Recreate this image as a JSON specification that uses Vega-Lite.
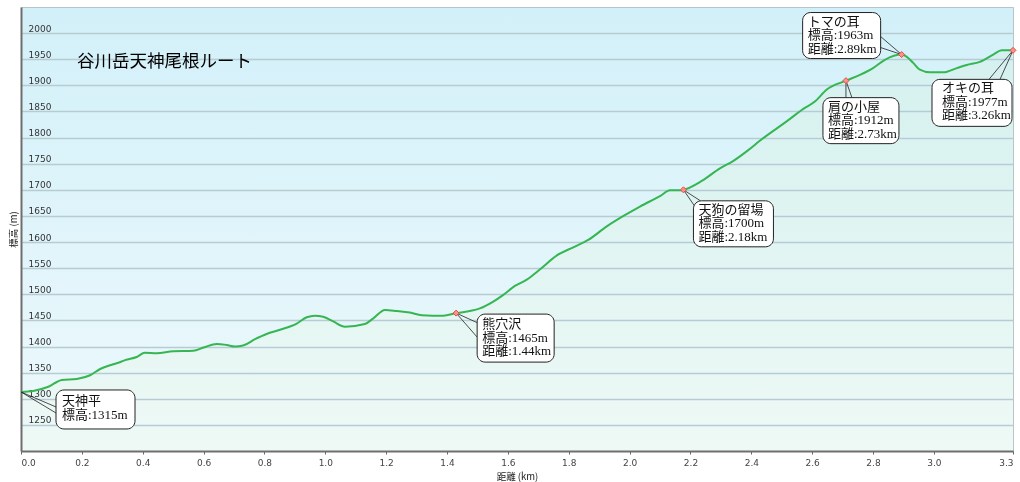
{
  "$schema": "https://vega.github.io/schema/vega-lite/v6.json",
  "autosize": {"type": "none"},
  "padding": {"left": 21, "top": 7, "right": 7, "bottom": 31},
  "width": 992,
  "height": 444,
  "background": "#ffffff",
  "view": {
    "fill": {"gradient": "linear", "x1": 0, "y1": 0, "x2": 0, "y2": 1,
      "stops": [{"offset": 0, "color": "#d2f0f9"}, {"offset": 1, "color": "#eef9fc"}]},
    "stroke": "#b8c4c8"
  },
  "title": {
    "text": "谷川岳天神尾根ルート",
    "anchor": "start", "frame": "group", "orient": "top",
    "offset": 0, "dx": 56, "dy": 72, "baseline": "middle",
    "font": "Noto Sans CJK JP", "fontSize": 17.5, "fontWeight": "normal", "color": "#000000"
  },
  "datasets": {
    "profile": [
      {"km": 0.000, "elev": 1313}, {"km": 0.040, "elev": 1315}, {"km": 0.090, "elev": 1323},
      {"km": 0.134, "elev": 1336}, {"km": 0.183, "elev": 1338}, {"km": 0.227, "elev": 1345},
      {"km": 0.260, "elev": 1357}, {"km": 0.303, "elev": 1366}, {"km": 0.325, "elev": 1370},
      {"km": 0.342, "elev": 1374}, {"km": 0.380, "elev": 1380}, {"km": 0.407, "elev": 1388},
      {"km": 0.446, "elev": 1387}, {"km": 0.500, "elev": 1391}, {"km": 0.566, "elev": 1392},
      {"km": 0.600, "elev": 1398}, {"km": 0.643, "elev": 1405}, {"km": 0.676, "elev": 1403},
      {"km": 0.703, "elev": 1400}, {"km": 0.730, "elev": 1402}, {"km": 0.769, "elev": 1414},
      {"km": 0.807, "elev": 1424}, {"km": 0.851, "elev": 1432}, {"km": 0.906, "elev": 1444},
      {"km": 0.939, "elev": 1456}, {"km": 0.966, "elev": 1459}, {"km": 0.993, "elev": 1457},
      {"km": 1.026, "elev": 1448}, {"km": 1.065, "elev": 1438}, {"km": 1.130, "elev": 1443},
      {"km": 1.158, "elev": 1454}, {"km": 1.196, "elev": 1470}, {"km": 1.235, "elev": 1468},
      {"km": 1.278, "elev": 1465}, {"km": 1.317, "elev": 1460}, {"km": 1.388, "elev": 1459},
      {"km": 1.430, "elev": 1464}, {"km": 1.465, "elev": 1467}, {"km": 1.508, "elev": 1473},
      {"km": 1.552, "elev": 1486}, {"km": 1.585, "elev": 1499}, {"km": 1.623, "elev": 1516},
      {"km": 1.662, "elev": 1528}, {"km": 1.706, "elev": 1548}, {"km": 1.760, "elev": 1574},
      {"km": 1.815, "elev": 1590}, {"km": 1.864, "elev": 1604}, {"km": 1.925, "elev": 1630},
      {"km": 1.980, "elev": 1650}, {"km": 2.034, "elev": 1668}, {"km": 2.100, "elev": 1688},
      {"km": 2.133, "elev": 1699}, {"km": 2.166, "elev": 1699}, {"km": 2.177, "elev": 1700},
      {"km": 2.237, "elev": 1717}, {"km": 2.297, "elev": 1741}, {"km": 2.340, "elev": 1755},
      {"km": 2.390, "elev": 1776}, {"km": 2.428, "elev": 1794}, {"km": 2.516, "elev": 1831},
      {"km": 2.571, "elev": 1855}, {"km": 2.609, "elev": 1869}, {"km": 2.648, "elev": 1892},
      {"km": 2.711, "elev": 1909}, {"km": 2.757, "elev": 1920}, {"km": 2.800, "elev": 1933},
      {"km": 2.839, "elev": 1949}, {"km": 2.894, "elev": 1959}, {"km": 2.910, "elev": 1955},
      {"km": 2.932, "elev": 1943}, {"km": 2.954, "elev": 1930}, {"km": 2.987, "elev": 1925},
      {"km": 3.031, "elev": 1925}, {"km": 3.075, "elev": 1933}, {"km": 3.108, "elev": 1939},
      {"km": 3.151, "elev": 1945}, {"km": 3.195, "elev": 1959}, {"km": 3.223, "elev": 1967},
      {"km": 3.260, "elev": 1967}
    ],
    "spots": [
      {"name": "天神平", "km": 0.000, "elev": 1313, "label": "天神平\n標高:1315m"},
      {"name": "熊穴沢", "km": 1.430, "elev": 1464, "label": "熊穴沢\n標高:1465m\n距離:1.44km"},
      {"name": "天狗の留場", "km": 2.177, "elev": 1700, "label": "天狗の留場\n標高:1700m\n距離:2.18km"},
      {"name": "肩の小屋", "km": 2.711, "elev": 1909, "label": "肩の小屋\n標高:1912m\n距離:2.73km"},
      {"name": "トマの耳", "km": 2.894, "elev": 1959, "label": "トマの耳\n標高:1963m\n距離:2.89km"},
      {"name": "オキの耳", "km": 3.260, "elev": 1967, "label": "オキの耳\n標高:1977m\n距離:3.26km"}
    ]
  },
  "encoding": {
    "x": {
      "field": "km", "type": "quantitative",
      "scale": {"domain": [0, 3.26], "nice": false, "zero": false},
      "axis": {
        "title": "距離 (km)",
        "values": [0, 0.2, 0.4, 0.6, 0.8, 1.0, 1.2, 1.4, 1.6, 1.8, 2.0, 2.2, 2.4, 2.6, 2.8, 3.0, 3.26],
        "labelExpr": "format(datum.value, '.1f')",
        "labelFlush": true, "labelOverlap": false,
        "grid": false, "tickSize": 3, "tickColor": "#666666", "labelPadding": 4,
        "domainColor": "#6e6e6e", "domainWidth": 2,
        "labelFont": "DejaVu Sans", "labelFontSize": 9, "labelColor": "#444444",
        "titleFont": "Noto Sans CJK JP", "titleFontSize": 9.5, "titleFontWeight": "normal", "titleColor": "#222222",
        "titleX": 496, "titleY": 25, "titleAlign": "center", "titleBaseline": "middle"
      }
    },
    "y": {
      "field": "elev", "type": "quantitative",
      "scale": {"domain": [1200, 2050], "nice": false, "zero": false},
      "axis": {
        "title": "標高 (m)",
        "values": [1250, 1300, 1350, 1400, 1450, 1500, 1550, 1600, 1650, 1700, 1750, 1800, 1850, 1900, 1950, 2000],
        "format": "d",
        "grid": true, "gridColor": "#b6ccd0", "gridWidth": 1.5,
        "ticks": false, "tickSize": 0, "labelOverlap": false,
        "labelAlign": "left", "labelBaseline": "alphabetic", "labelPadding": -7, "labelOffset": -2,
        "labelFont": "DejaVu Sans", "labelFontSize": 9, "labelColor": "#333333",
        "domainColor": "#6e6e6e", "domainWidth": 2,
        "titleFont": "Noto Sans CJK JP", "titleFontSize": 9.5, "titleFontWeight": "normal", "titleColor": "#222222",
        "titleAngle": -90, "titleX": -8, "titleY": 222, "titleAlign": "center", "titleBaseline": "middle"
      }
    }
  },
  "layer": [
    {
      "data": {"name": "profile"},
      "mark": {"type": "area", "interpolate": "monotone", "blend": "darken",
        "fill": {"gradient": "linear", "x1": 0, "y1": 0, "x2": 0, "y2": 1,
          "stops": [{"offset": 0, "color": "#d6f4ef"}, {"offset": 1, "color": "#effcf5"}]}},
      "encoding": {"y2": {"datum": 1200}}
    },
    {
      "data": {"name": "profile"},
      "mark": {"type": "line", "interpolate": "monotone", "color": "#35b653", "strokeWidth": 2}
    },
    {
      "data": {"name": "spots"},
      "transform": [{"filter": "datum.name === '天神平'"}],
      "layer": [
        {"mark": {"type": "rule", "color": "#222222", "strokeWidth": 0.8, "x2Offset": 35, "y2Offset": 15},
         "encoding": {"x2": {"field": "km"}, "y2": {"field": "elev"}}},
        {"mark": {"type": "rule", "color": "#222222", "strokeWidth": 0.8, "x2Offset": 35, "y2Offset": 21},
         "encoding": {"x2": {"field": "km"}, "y2": {"field": "elev"}}},
        {"mark": {"type": "rect", "fill": "#ffffff", "stroke": "#222222", "strokeWidth": 1, "cornerRadius": 8,
          "xOffset": 35, "x2Offset": 114, "yOffset": -2, "y2Offset": 37},
         "encoding": {"x2": {"field": "km"}, "y2": {"field": "elev"}}},
        {"mark": {"type": "text", "align": "left", "baseline": "top", "lineBreak": "\n", "lineHeight": 14,
          "font": "Liberation Serif, Noto Sans CJK JP", "fontSize": 13, "color": "#111111", "dx": 41, "dy": 3},
         "encoding": {"text": {"field": "label"}}}
      ]
    },
    {
      "data": {"name": "spots"},
      "transform": [{"filter": "datum.name === '熊穴沢'"}],
      "layer": [
        {"mark": {"type": "rule", "color": "#222222", "strokeWidth": 0.8, "x2Offset": 22, "y2Offset": 10},
         "encoding": {"x2": {"field": "km"}, "y2": {"field": "elev"}}},
        {"mark": {"type": "rule", "color": "#222222", "strokeWidth": 0.8, "x2Offset": 21, "y2Offset": 24},
         "encoding": {"x2": {"field": "km"}, "y2": {"field": "elev"}}},
        {"mark": {"type": "rect", "fill": "#ffffff", "stroke": "#222222", "strokeWidth": 1, "cornerRadius": 8,
          "xOffset": 21, "x2Offset": 98, "yOffset": 1, "y2Offset": 49},
         "encoding": {"x2": {"field": "km"}, "y2": {"field": "elev"}}},
        {"mark": {"type": "text", "align": "left", "baseline": "top", "lineBreak": "\n", "lineHeight": 13.5,
          "font": "Liberation Serif, Noto Sans CJK JP", "fontSize": 13, "color": "#111111", "dx": 26, "dy": 5},
         "encoding": {"text": {"field": "label"}}}
      ]
    },
    {
      "data": {"name": "spots"},
      "transform": [{"filter": "datum.name === '天狗の留場'"}],
      "layer": [
        {"mark": {"type": "rule", "color": "#222222", "strokeWidth": 0.8, "x2Offset": 11, "y2Offset": 16},
         "encoding": {"x2": {"field": "km"}, "y2": {"field": "elev"}}},
        {"mark": {"type": "rule", "color": "#222222", "strokeWidth": 0.8, "x2Offset": 17, "y2Offset": 11},
         "encoding": {"x2": {"field": "km"}, "y2": {"field": "elev"}}},
        {"mark": {"type": "rect", "fill": "#ffffff", "stroke": "#222222", "strokeWidth": 1, "cornerRadius": 8,
          "xOffset": 10, "x2Offset": 90, "yOffset": 11, "y2Offset": 57},
         "encoding": {"x2": {"field": "km"}, "y2": {"field": "elev"}}},
        {"mark": {"type": "text", "align": "left", "baseline": "top", "lineBreak": "\n", "lineHeight": 13.5,
          "font": "Liberation Serif, Noto Sans CJK JP", "fontSize": 13, "color": "#111111", "dx": 15, "dy": 14},
         "encoding": {"text": {"field": "label"}}}
      ]
    },
    {
      "data": {"name": "spots"},
      "transform": [{"filter": "datum.name === '肩の小屋'"}],
      "layer": [
        {"mark": {"type": "rule", "color": "#222222", "strokeWidth": 0.8, "x2Offset": 0, "y2Offset": 17},
         "encoding": {"x2": {"field": "km"}, "y2": {"field": "elev"}}},
        {"mark": {"type": "rule", "color": "#222222", "strokeWidth": 0.8, "x2Offset": 6, "y2Offset": 17},
         "encoding": {"x2": {"field": "km"}, "y2": {"field": "elev"}}},
        {"mark": {"type": "rect", "fill": "#ffffff", "stroke": "#222222", "strokeWidth": 1, "cornerRadius": 8,
          "xOffset": -23, "x2Offset": 53, "yOffset": 17, "y2Offset": 63},
         "encoding": {"x2": {"field": "km"}, "y2": {"field": "elev"}}},
        {"mark": {"type": "text", "align": "left", "baseline": "top", "lineBreak": "\n", "lineHeight": 13.5,
          "font": "Liberation Serif, Noto Sans CJK JP", "fontSize": 13, "color": "#111111", "dx": -18, "dy": 20},
         "encoding": {"text": {"field": "label"}}}
      ]
    },
    {
      "data": {"name": "spots"},
      "transform": [{"filter": "datum.name === 'トマの耳'"}],
      "layer": [
        {"mark": {"type": "rule", "color": "#222222", "strokeWidth": 0.8, "x2Offset": -21, "y2Offset": -18},
         "encoding": {"x2": {"field": "km"}, "y2": {"field": "elev"}}},
        {"mark": {"type": "rule", "color": "#222222", "strokeWidth": 0.8, "x2Offset": -21, "y2Offset": -7},
         "encoding": {"x2": {"field": "km"}, "y2": {"field": "elev"}}},
        {"mark": {"type": "rect", "fill": "#ffffff", "stroke": "#222222", "strokeWidth": 1, "cornerRadius": 8,
          "xOffset": -99, "x2Offset": -21, "yOffset": -42, "y2Offset": 4},
         "encoding": {"x2": {"field": "km"}, "y2": {"field": "elev"}}},
        {"mark": {"type": "text", "align": "left", "baseline": "top", "lineBreak": "\n", "lineHeight": 13.5,
          "font": "Liberation Serif, Noto Sans CJK JP", "fontSize": 13, "color": "#111111", "dx": -94, "dy": -39},
         "encoding": {"text": {"field": "label"}}}
      ]
    },
    {
      "data": {"name": "spots"},
      "transform": [{"filter": "datum.name === 'オキの耳'"}],
      "layer": [
        {"mark": {"type": "rule", "color": "#222222", "strokeWidth": 0.8, "x2Offset": -24, "y2Offset": 29},
         "encoding": {"x2": {"field": "km"}, "y2": {"field": "elev"}}},
        {"mark": {"type": "rule", "color": "#222222", "strokeWidth": 0.8, "x2Offset": -13, "y2Offset": 29},
         "encoding": {"x2": {"field": "km"}, "y2": {"field": "elev"}}},
        {"mark": {"type": "rect", "fill": "#ffffff", "stroke": "#222222", "strokeWidth": 1, "cornerRadius": 8,
          "xOffset": -81, "x2Offset": -1, "yOffset": 29, "y2Offset": 76},
         "encoding": {"x2": {"field": "km"}, "y2": {"field": "elev"}}},
        {"mark": {"type": "text", "align": "left", "baseline": "top", "lineBreak": "\n", "lineHeight": 13.5,
          "font": "Liberation Serif, Noto Sans CJK JP", "fontSize": 13, "color": "#111111", "dx": -71, "dy": 32},
         "encoding": {"text": {"field": "label"}}}
      ]
    },
    {
      "data": {"name": "spots"},
      "transform": [{"filter": "datum.name !== '天神平'"}],
      "mark": {"type": "point", "shape": "diamond", "size": 36, "filled": true, "fill": "#ff8f8f", "stroke": "#e0503a", "strokeWidth": 1, "opacity": 1}
    }
  ]
}
